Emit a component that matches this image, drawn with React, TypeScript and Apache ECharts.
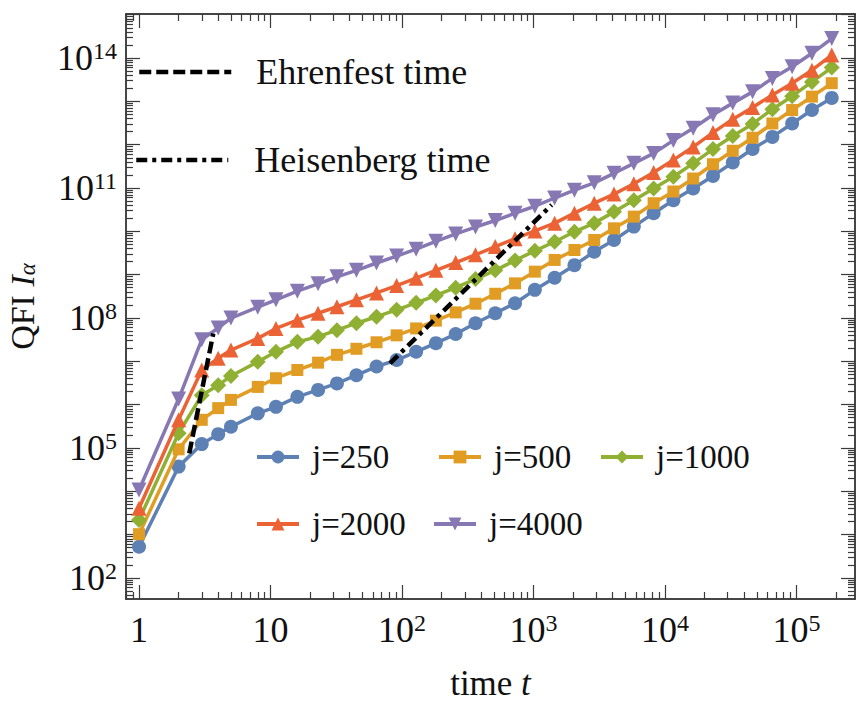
import React, { useEffect, useRef } from "react";
import * as echarts from "echarts";

// time points (markers)
const times = [1, 2, 3, 4, 5, 8, 11, 16, 23, 32, 45, 64, 91, 128, 181, 256, 362, 512, 724, 1024, 1448, 2048, 2896, 4096, 5793, 8192, 11585, 16384, 23170, 32768, 46341, 65536, 92682, 131072, 185364];

const seriesNames = ["j=250", "j=500", "j=1000", "j=2000", "j=4000"];

// log10 of QFI
const log10QFI_j250 = [2.72, 4.57, 5.09, 5.32, 5.49, 5.80, 5.95, 6.18, 6.34, 6.49, 6.68, 6.88, 7.03, 7.22, 7.42, 7.63, 7.88, 8.11, 8.34, 8.65, 8.93, 9.22, 9.53, 9.80, 10.11, 10.42, 10.72, 10.99, 11.28, 11.59, 11.90, 12.18, 12.49, 12.80, 13.08];
const log10QFI_j500 = [3.01, 4.97, 5.65, 5.92, 6.11, 6.41, 6.61, 6.80, 6.97, 7.15, 7.29, 7.44, 7.60, 7.76, 7.94, 8.13, 8.33, 8.56, 8.80, 9.07, 9.34, 9.57, 9.80, 10.07, 10.34, 10.65, 10.92, 11.22, 11.55, 11.86, 12.16, 12.49, 12.80, 13.11, 13.42];
const log10QFI_j1000 = [3.34, 5.34, 6.22, 6.45, 6.66, 6.99, 7.22, 7.45, 7.57, 7.72, 7.88, 8.03, 8.19, 8.35, 8.52, 8.70, 8.90, 9.10, 9.33, 9.55, 9.76, 9.99, 10.19, 10.45, 10.72, 10.99, 11.26, 11.57, 11.90, 12.20, 12.48, 12.82, 13.12, 13.45, 13.78];
const log10QFI_j2000 = [3.61, 5.65, 6.80, 7.07, 7.26, 7.53, 7.76, 7.95, 8.11, 8.26, 8.42, 8.58, 8.75, 8.92, 9.10, 9.28, 9.46, 9.65, 9.83, 10.01, 10.19, 10.42, 10.65, 10.86, 11.10, 11.36, 11.65, 11.95, 12.28, 12.59, 12.86, 13.15, 13.42, 13.72, 14.07];
const log10QFI_j4000 = [4.03, 6.13, 7.50, 7.77, 8.00, 8.25, 8.42, 8.62, 8.79, 8.95, 9.10, 9.27, 9.43, 9.59, 9.77, 9.94, 10.10, 10.25, 10.42, 10.58, 10.77, 10.95, 11.12, 11.34, 11.57, 11.80, 12.10, 12.38, 12.69, 12.96, 13.22, 13.53, 13.80, 14.11, 14.45];

// Ehrenfest / Heisenberg time guide lines (t, QFI)
const ehrenfestT = [2.41, 3.67];
const ehrenfestQFI = [7.5e4, 4.4e7];
const heisenbergT = [81, 1374];
const heisenbergQFI = [9.0e6, 4.1e10];

// axis ticks
const xLabelTicks = [1, 10, 100, 1000, 10000, 100000];
const yLabelTicks = [1e2, 1e5, 1e8, 1e11, 1e14];
const xMin = 0.796, xMax = 2.786e5;
const yMin = 32.7, yMax = 1.04e15;

const colors = ["#5E81B5", "#E19C24", "#8FB032", "#EB6235", "#8778B3"];
const symbols = ["circle", "rect", "diamond", "triangle", "triangle"];
const symbolSizes = [14, 12, 16, 15, 15];
const symbolRotates = [0, 0, 0, 0, 180];

const FONT = "Liberation Serif";

function decades(lo: number, hi: number) {
  const out: number[] = [];
  for (let d = lo; d <= hi; d++) out.push(Math.pow(10, d));
  return out;
}
function minors(lo: number, hi: number) {
  const out: number[] = [];
  for (let d = lo; d <= hi; d++) for (let m = 2; m <= 9; m++) out.push(m * Math.pow(10, d));
  return out;
}

const xMajor = decades(0, 5);
const xMinor = minors(-1, 5).filter((v) => v > xMin && v < xMax);
const yMajor = decades(2, 15).filter((v) => v > yMin && v < yMax);
const yMinor = minors(1, 14).filter((v) => v > yMin && v < yMax);

const labelFmt = (v: number) => {
  const e = Math.round(Math.log10(v));
  if (e === 0) return "{b|1}";
  if (e === 1) return "{b|10}";
  return `{b|10}{s|${e}}`;
};
const labelRich = {
  b: { fontFamily: FONT, fontSize: 36, lineHeight: 38, color: "#111" },
  s: { fontFamily: FONT, fontSize: 24, lineHeight: 24, verticalAlign: "top", color: "#111" },
};

const frameColor = "#3a3a3a";

function makeX(position: string, ticks: number[], len: number, withLabel: boolean, extra: any = {}) {
  return {
    type: "log",
    logBase: 10,
    min: xMin,
    max: xMax,
    position,
    gridIndex: 0,
    axisLine: { show: true, onZero: false, lineStyle: { color: frameColor, width: 1.5 } },
    axisTick: { show: true, inside: true, length: len, customValues: ticks, lineStyle: { color: frameColor, width: 1.2 } },
    minorTick: { show: false },
    splitLine: { show: false },
    axisLabel: withLabel
      ? { show: true, customValues: xLabelTicks, formatter: labelFmt, rich: labelRich, margin: 12 }
      : { show: false },
    ...extra,
  };
}
function makeY(position: string, ticks: number[], len: number, withLabel: boolean, extra: any = {}) {
  return {
    type: "log",
    logBase: 10,
    min: yMin,
    max: yMax,
    position,
    gridIndex: 0,
    axisLine: { show: true, onZero: false, lineStyle: { color: frameColor, width: 1.5 } },
    axisTick: { show: true, inside: true, length: len, customValues: ticks, lineStyle: { color: frameColor, width: 1.2 } },
    minorTick: { show: false },
    splitLine: { show: false },
    axisLabel: withLabel
      ? { show: true, customValues: yLabelTicks, formatter: labelFmt, rich: labelRich, margin: 9 }
      : { show: false },
    ...extra,
  };
}

export default function App() {
  const ref = useRef<HTMLDivElement>(null);
  useEffect(() => {
    if (!ref.current) return;
    const chart = echarts.init(ref.current, null, { renderer: "svg" });
    const allLogs = [log10QFI_j250, log10QFI_j500, log10QFI_j1000, log10QFI_j2000, log10QFI_j4000];

    const curveSeries = seriesNames.map((name, i) => ({
      name,
      type: "line",
      xAxisIndex: 0,
      yAxisIndex: 0,
      data: times.map((t, k) => [t, Math.pow(10, allLogs[i][k])]),
      symbol: symbols[i],
      symbolSize: symbolSizes[i],
      symbolRotate: symbolRotates[i],
      showAllSymbol: true,
      color: colors[i],
      lineStyle: { width: 3.5, color: colors[i] },
      itemStyle: { color: colors[i] },
      z: 2 + i,
    }));

    // invisible helpers so that every frame axis is bound to a series
    const helperSeries = [1, 2, 3].map((k) => ({
      name: "__axis" + k,
      type: "line",
      xAxisIndex: k,
      yAxisIndex: k,
      data: [[10, 1e8]],
      symbol: "none",
      lineStyle: { opacity: 0 },
      silent: true,
      tooltip: { show: false },
    }));

    const legendText = (fs: number, padLeft: number) => ({
      fontFamily: FONT,
      fontSize: fs,
      lineHeight: 36,
      color: "#111",
      padding: [0, 0, 0, padLeft],
    });

    const jLegendPos = [
      { left: 255, cy: 457 },
      { left: 437, cy: 457 },
      { left: 599, cy: 457 },
      { left: 255, cy: 524 },
      { left: 432, cy: 524 },
    ];

    const option: any = {
      animation: false,
      backgroundColor: "#ffffff",
      grid: { left: 126, right: 1, top: 14, bottom: 105, containLabel: false, outerBoundsMode: "none" },
      xAxis: [
        makeX("bottom", xMajor, 14, true, {
          name: "{n|time }{i|t}",
          nameLocation: "middle",
          nameGap: 69,
          nameTextStyle: {
            rich: {
              n: { fontFamily: FONT, fontSize: 35, lineHeight: 30, color: "#111" },
              i: { fontFamily: FONT, fontSize: 35, lineHeight: 30, fontStyle: "italic", color: "#111" },
            },
          },
        }),
        makeX("bottom", xMinor, 7, false),
        makeX("top", xMajor, 14, false),
        makeX("top", xMinor, 7, false),
      ],
      yAxis: [
        makeY("left", yMajor, 14, true, {
          name: "{n|QFI }{i|I}{sub|α}",
          nameLocation: "middle",
          nameGap: 87,
          nameRotate: 90,
          nameTextStyle: {
            rich: {
              n: { fontFamily: FONT, fontSize: 34, lineHeight: 34, color: "#111" },
              i: { fontFamily: FONT, fontSize: 34, lineHeight: 34, fontStyle: "italic", color: "#111" },
              sub: { fontFamily: FONT, fontSize: 23, fontStyle: "italic", color: "#111", verticalAlign: "bottom", lineHeight: 22 },
            },
          },
        }),
        makeY("left", yMinor, 7, false),
        makeY("right", yMajor, 14, false),
        makeY("right", yMinor, 7, false),
      ],
      legend: [
        ...seriesNames.map((n, i) => ({
          data: [n],
          left: jLegendPos[i].left,
          top: jLegendPos[i].cy - 18,
          padding: 0,
          itemWidth: 42,
          itemHeight: 16,
          lineStyle: { width: 4 },
          textStyle: legendText(33, 8),
          selectedMode: false,
        })),
        {
          data: ["Ehrenfest time"],
          left: 137,
          top: 72 - 18,
          padding: 0,
          itemWidth: 92,
          itemHeight: 16,
          itemStyle: { opacity: 0 },
          lineStyle: { width: 4.5 },
          textStyle: legendText(36, 20),
          selectedMode: false,
        },
        {
          data: ["Heisenberg time"],
          left: 134,
          top: 160 - 18,
          padding: 0,
          itemWidth: 92,
          itemHeight: 16,
          itemStyle: { opacity: 0 },
          lineStyle: { width: 4.5 },
          textStyle: legendText(36, 21),
          selectedMode: false,
        },
      ],
      series: [
        ...curveSeries,
        {
          name: "Ehrenfest time",
          type: "line",
          xAxisIndex: 0,
          yAxisIndex: 0,
          data: ehrenfestT.map((t, k) => [t, ehrenfestQFI[k]]),
          symbol: "none",
          color: "#000",
          lineStyle: { color: "#000", width: 4.5, type: [12, 5] },
          z: 10,
        },
        {
          name: "Heisenberg time",
          type: "line",
          xAxisIndex: 0,
          yAxisIndex: 0,
          data: heisenbergT.map((t, k) => [t, heisenbergQFI[k]]),
          symbol: "none",
          color: "#000",
          lineStyle: { color: "#000", width: 4.5, type: [11, 5, 4, 5] },
          z: 10,
        },
        ...helperSeries,
      ],
    };
    chart.setOption(option);
    return () => chart.dispose();
  }, []);
  return (
    <div
      ref={ref}
      style={{ position: "fixed", left: 0, top: 0, width: 856, height: 704, background: "#fff" }}
    />
  );
}
